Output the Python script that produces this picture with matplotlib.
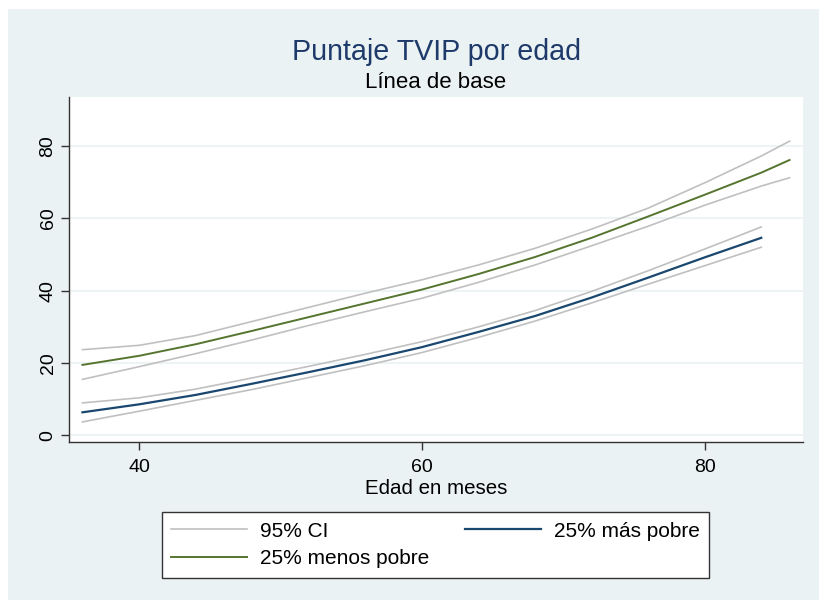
import matplotlib.pyplot as plt
from matplotlib.patches import Rectangle

plt.rcParams['font.family'] = ['Liberation Sans', 'DejaVu Sans']

# edad en meses
edad_ricos = [36, 40, 44, 48, 52, 56, 60, 64, 68, 72, 76, 80, 84, 86]
edad_pobres = [36, 40, 44, 48, 52, 56, 60, 64, 68, 72, 76, 80, 84]

# 25% menos pobre
ricos = [19.5, 22.0, 25.2, 28.9, 32.7, 36.5, 40.3, 44.6, 49.3, 54.6, 60.5, 66.5, 72.6, 76.1]
ricos_hi = [23.7, 24.9, 27.6, 31.5, 35.4, 39.3, 43.0, 47.1, 51.7, 57.0, 62.8, 69.8, 77.2, 81.3]
ricos_lo = [15.5, 19.0, 22.6, 26.4, 30.4, 34.2, 37.9, 42.3, 47.1, 52.4, 57.8, 63.6, 68.9, 71.2]

# 25% mas pobre
pobres = [6.4, 8.6, 11.2, 14.3, 17.5, 20.8, 24.4, 28.6, 33.0, 38.1, 43.6, 49.2, 54.6]
pobres_hi = [9.0, 10.4, 12.8, 15.9, 19.1, 22.4, 25.9, 30.0, 34.5, 39.8, 45.5, 51.5, 57.6]
pobres_lo = [3.75, 6.7, 9.7, 12.7, 16.0, 19.3, 22.9, 27.1, 31.6, 36.6, 41.8, 46.9, 52.0]

yticks = [0, 20, 40, 60, 80]
xticks = [40, 60, 80]

bg = '#EAF2F3'
ci_col = '#C0C0C0'
verde = '#55752F'
azul = '#1A476F'

fig = plt.figure(figsize=(8.19, 6.0), dpi=100)
fig.patch.set_facecolor('white')
fig.patches.append(Rectangle((8/819, 0), 1, 1 - 9/600, transform=fig.transFigure,
                             facecolor=bg, edgecolor='none', zorder=-1))

ax = fig.add_axes([69/819, 1 - 442/600, (803-69)/819, (442-97)/600])
ax.set_facecolor('white')

for y in yticks:
    ax.axhline(y, color=bg, lw=1.2, zorder=0)

l_ci, = ax.plot(edad_ricos, ricos_hi, color=ci_col, lw=1.2, label='95% CI')
ax.plot(edad_ricos, ricos_lo, color=ci_col, lw=1.2)
ax.plot(edad_pobres, pobres_hi, color=ci_col, lw=1.2)
ax.plot(edad_pobres, pobres_lo, color=ci_col, lw=1.2)
l_verde, = ax.plot(edad_ricos, ricos, color=verde, lw=1.4, label='25% menos pobre')
l_azul, = ax.plot(edad_pobres, pobres, color=azul, lw=1.6, label='25% más pobre')

ax.set_xlim(35.05, 86.95)
ax.set_ylim(-1.8, 93.5)
ax.set_xticks(xticks)
ax.set_yticks(yticks)
ax.set_yticklabels([str(v) for v in yticks], rotation=90, va='center')

for s in ['top', 'right']:
    ax.spines[s].set_visible(False)
for s in ['left', 'bottom']:
    ax.spines[s].set_color('#333333')
    ax.spines[s].set_linewidth(1.0)
ax.tick_params(axis='both', length=5.5, width=1.0, color='#333333', labelsize=14)
ax.tick_params(axis='x', pad=7)
ax.tick_params(axis='y', pad=3.5)

cx = 436 / 819
fig.text(cx, 1 - 494.3/600, 'Edad en meses', fontsize=14.8, ha='center', va='baseline')
fig.text(cx, 1 - 59.5/600, 'Puntaje TVIP por edad', fontsize=20.6, color='#1E3A6A',
         ha='center', va='baseline')
fig.text(cx, 1 - 88.5/600, 'Línea de base', fontsize=16, ha='center', va='baseline')

leg = fig.legend(handles=[l_ci, l_verde, l_azul], loc='center',
                 bbox_to_anchor=(435.5/819, 1 - 545/600), ncol=2, fontsize=15,
                 frameon=True, fancybox=False, handlelength=3.65, handletextpad=0.62,
                 columnspacing=1.7, labelspacing=0.41, borderpad=0.45)
leg.get_frame().set_edgecolor('#333333')
leg.get_frame().set_linewidth(1.0)
leg.get_frame().set_facecolor('white')
leg.get_frame().set_alpha(1)

plt.savefig('out.png', dpi=100, facecolor=fig.get_facecolor())
